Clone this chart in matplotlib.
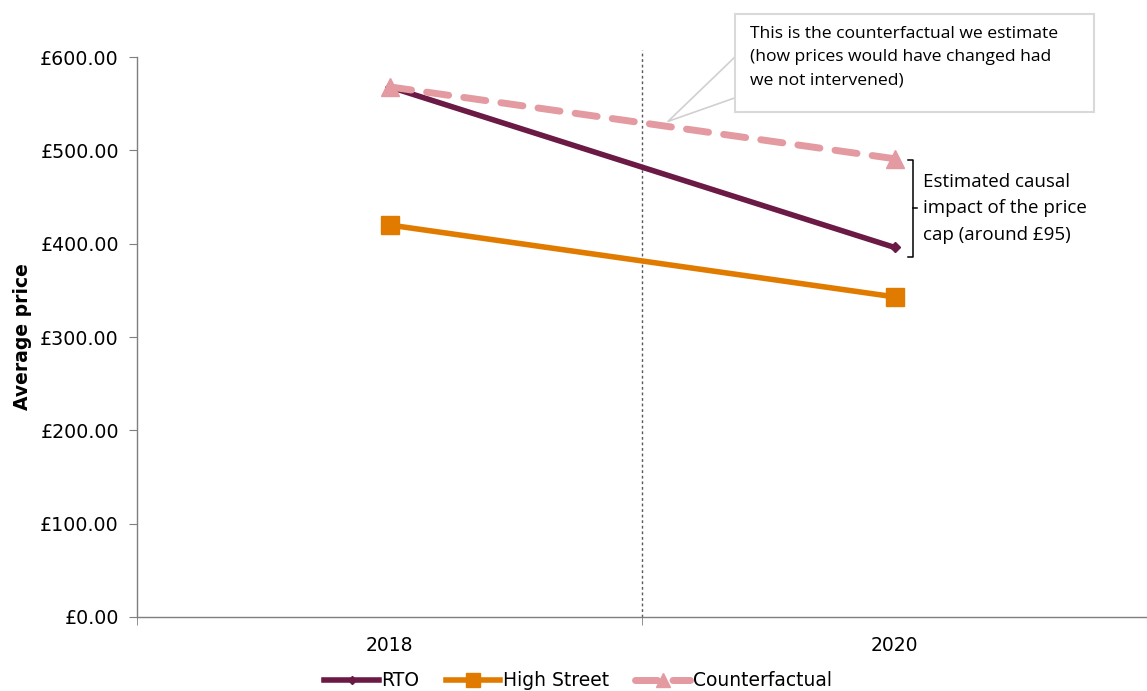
import matplotlib
matplotlib.use("Agg")
import matplotlib.pyplot as plt
from matplotlib.ticker import FuncFormatter
from matplotlib.patches import Rectangle
import numpy as np

years = ["2018", "2020"]
rto = [568, 396]
high_street = [420, 343]
counterfactual = [568, 491]

ytick_vals = [0, 100, 200, 300, 400, 500, 600]

## Figure Initializing
fig = plt.figure(figsize=(11.47, 6.91), dpi=100)
W, H = 1147, 691
ax = fig.add_axes([137 / W, (H - 617) / H, (1147 - 137) / W, (617 - 57) / H])

x = np.arange(len(years))

## Data Plotting
ax.plot(x, rto, color="#6b1a45", lw=4, marker="D", ms=5, label="RTO", zorder=4)
ax.plot(x, high_street, color="#e07b00", lw=4, marker="s", ms=13,
        label="High Street", zorder=3)
ax.plot(x, counterfactual, color="#e39aa0", lw=5, ls=(0, (3.2, 2.2)),
        dash_capstyle="round", marker="^", ms=13, label="Counterfactual",
        zorder=5)

ax.set_xlim(-0.5, 1.5)
ax.set_ylim(0, 600)

ax.set_xticks(x)
ax.set_xticklabels(years)
ax.set_xticks([-0.5, 0.5, 1.5], minor=True)
ax.tick_params(axis="x", which="major", length=0, pad=14, labelsize=13.5,
               colors="#000000")
ax.tick_params(axis="x", which="minor", length=6, direction="out",
               color="#7f7f7f")
ax.set_yticks(ytick_vals)
ax.yaxis.set_major_formatter(FuncFormatter(lambda v, p: "\u00a3%.2f" % v))
ax.tick_params(axis="y", length=6, direction="out", color="#7f7f7f",
               labelsize=13.7, pad=7)

for s in ["top", "right"]:
    ax.spines[s].set_visible(False)
for s in ["left", "bottom"]:
    ax.spines[s].set_color("#7f7f7f")
    ax.spines[s].set_linewidth(1)

ax.set_ylabel("Average price", fontsize=13.5, fontweight="bold", labelpad=6)

# dotted divider between the two years
ax.plot([0.5, 0.5], [0, 608], color="#595959", lw=1, ls=(0, (2, 2)),
        clip_on=False, zorder=2)

# callout box for the counterfactual (wedge pointer + box)
ax.plot([0.684, 0.5515, 0.688], [600, 531, 557], color="#d0d0d0", lw=1.2,
        clip_on=False, zorder=6)
ax.add_patch(Rectangle((0.684, 541), 1.395 - 0.684, 646 - 541, fc="white",
                       ec="#d9d9d9", lw=1.5, clip_on=False, zorder=7))
ax.text(0.714, 646 - 13, "This is the counterfactual we estimate\n(how prices would have changed had\nwe not intervened)",
        fontsize=12.6, family="Open Sans", va="top", ha="left",
        linespacing=1.6, zorder=8)

# bracket showing the causal impact
ax.plot([1.027, 1.037, 1.037, 1.027], [490, 490, 386, 386], color="black",
        lw=1.1, clip_on=False)
ax.plot([1.037, 1.045], [438, 438], color="black", lw=1.1, clip_on=False)
ax.text(1.057, 438, "Estimated causal\nimpact of the price\ncap (around \u00a395)",
        fontsize=13.5, family="Open Sans", va="center", ha="left",
        linespacing=1.6)

fig.legend(loc="lower center", bbox_to_anchor=(578 / W, 0.0), ncol=3,
           frameon=False, fontsize=13.5, handlelength=2.9, columnspacing=1.4,
           handletextpad=0.15, markerscale=0.75, borderaxespad=0,
           borderpad=0.05)

fig.savefig("out.png", dpi=100)
